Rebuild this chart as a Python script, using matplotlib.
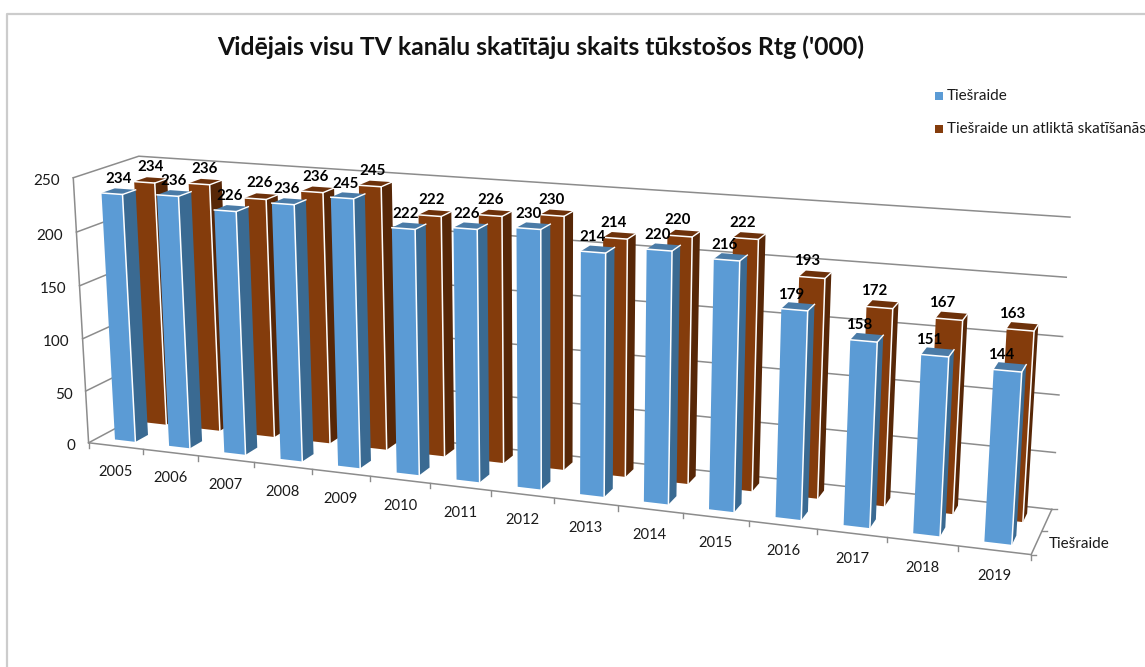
import matplotlib
matplotlib.use("Agg")
import matplotlib.pyplot as plt
import numpy as np
from matplotlib.patches import Polygon, Rectangle

plt.rcParams["font.family"] = ["Lato", "DejaVu Sans"]

years = [2005, 2006, 2007, 2008, 2009, 2010, 2011, 2012, 2013, 2014, 2015, 2016, 2017, 2018, 2019]
live = [234, 236, 226, 236, 245, 222, 226, 230, 214, 220, 216, 179, 158, 151, 144]
live_plus = [234, 236, 226, 236, 245, 222, 226, 230, 214, 220, 222, 193, 172, 167, 163]
y_ticks = [0, 50, 100, 150, 200, 250]
y_max = 250

title = "Vidējais visu TV kanālu skatītāju skaits tūkstošos Rtg ('000)"
series_names = ["Tiešraide", "Tiešraide un atliktā skatīšanās"]

BLUE = ("#5b9bd5", "#3a6a92", "#4a7ba7")
BROWN = ("#843c0c", "#572707", "#6d310a")
GRID = "#8c8c8c"
TEXT = "#1a1a1a"

# camera fitted on the corners of the 3D box: (category, depth, value) -> pixel
corners = [
    ((0, 0, 0), (89, 444)), ((0, 0, 1), (73, 177)),
    ((0, 1, 1), (139, 157)), ((0, 1, 0), (151, 408)),
    ((1, 0, 0), (1031, 554)), ((1, 1, 0), (1052, 510)),
    ((1, 1, 1), (1070, 217)),
]
rows = []
for (a, b, c), (u, v) in corners:
    rows.append([a, b, c, 1, 0, 0, 0, 0, -u * a, -u * b, -u * c, -u])
    rows.append([0, 0, 0, 0, a, b, c, 1, -v * a, -v * b, -v * c, -v])
CAM = np.linalg.svd(np.array(rows, dtype=float))[2][-1].reshape(3, 4)


def proj(cat, depth, val):
    """cat in category units, depth 0-1, val in data units -> pixel."""
    p = CAM @ np.array([cat / len(years), depth, val / y_max, 1.0])
    return p[0] / p[2], p[1] / p[2]


def draw_bar(ax, i, val, d0, d1, colors, gap=0.31):
    x0, x1 = i + gap, i + 1 - gap
    front = [proj(x0, d0, 0), proj(x1, d0, 0), proj(x1, d0, val), proj(x0, d0, val)]
    side = [proj(x1, d0, 0), proj(x1, d1, 0), proj(x1, d1, val), proj(x1, d0, val)]
    top = [proj(x0, d0, val), proj(x1, d0, val), proj(x1, d1, val), proj(x0, d1, val)]
    ax.add_patch(Polygon(front, fc=colors[0], ec="none", zorder=3))
    ax.add_patch(Polygon(side, fc=colors[1], ec="none", zorder=3))
    ax.add_patch(Polygon(top, fc=colors[2], ec="none", zorder=3))
    # white highlight on the bar edges
    edge = [front[3], front[2], front[1]]
    ax.plot(*zip(*edge), color="white", lw=1.1, zorder=3)
    ax.plot(*zip(front[2], side[2]), color="white", lw=1.0, zorder=3)


fig = plt.figure(figsize=(11.45, 6.67), dpi=100)
ax = fig.add_axes([0, 0, 1, 1])
ax.set_xlim(0, 1145)
ax.set_ylim(667, 0)
ax.axis("off")

# chart frame, runs off the crop on the top and right
ax.plot([7, 7, 1145], [667, 14, 14], color="#cccccc", lw=1.6)

ax.text(541, 47, title, ha="center", va="center", fontsize=17.8, fontweight="bold", color="#111111")

n = len(years)
for v in y_ticks:
    ax.plot(*zip(proj(0, 0, v), proj(0, 1, v), proj(n, 1, v)), color=GRID, lw=1.1, zorder=1)
    px, py = proj(0, 0, v)
    ax.text(px - 13, py + 3.5, str(v), ha="right", va="center", fontsize=11, color=TEXT)
ax.plot(*zip(proj(0, 0, 0), proj(0, 0, y_max)), color=GRID, lw=1.1, zorder=1)
ax.plot(*zip(proj(0, 0, 0), proj(n, 0, 0), proj(n, 1, 0)), color=GRID, lw=1.1, zorder=1)

for i in range(n + 1):
    px, py = proj(i, 0, 0)
    ax.plot([px, px], [py, py + 5], color=GRID, lw=1.0, zorder=1)
for d in [0, 0.5, 1]:
    px, py = proj(n, d, 0)
    ax.plot([px, px + 5], [py, py], color=GRID, lw=1.0, zorder=1)
for i, yr in enumerate(years):
    px, py = proj(i + 0.5, 0, 0)
    ax.text(px, py + 26, str(yr), ha="center", va="center", fontsize=10.6, color=TEXT)
px, py = proj(n, 0.25, 0)
ax.text(px + 12, py + 1, series_names[0], ha="left", va="center", fontsize=11, color=TEXT)

for i in range(n):
    draw_bar(ax, i, live_plus[i], 0.65, 0.85, BROWN)
for i in range(n):
    draw_bar(ax, i, live[i], 0.15, 0.35, BLUE)

# value labels drift a little against the bars from left to right
for i in range(n):
    t = i / (n - 1)
    for val, d, dx, dy in [(live_plus[i], 0.75, -10 * t, -13), (live[i], 0.25, -9 * t, -12)]:
        px, py = proj(i + 0.5, d, val)
        ax.text(px + dx, py + dy, str(val), ha="center", va="center", fontsize=10.8,
                fontweight="bold", color="black", zorder=5)

# legend
for name, color, ly in zip(series_names, [BLUE[0], BROWN[0]], [96, 129]):
    ax.add_patch(Rectangle((935, ly - 4.5), 8, 8, fc=color, ec="none"))
    ax.text(947, ly, name, ha="left", va="center", fontsize=11, color=TEXT)

fig.savefig("out.png", dpi=100)
